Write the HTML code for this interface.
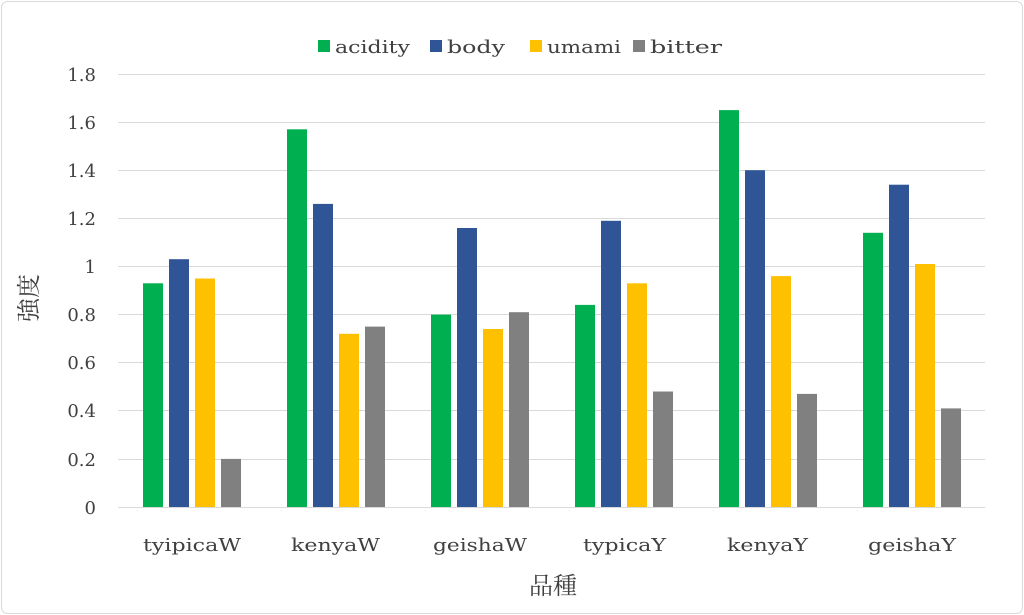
<!DOCTYPE html>
<html><head><meta charset="utf-8"><style>
html,body{margin:0;padding:0;background:#fff;}
svg{display:block;font-family:"DejaVu Serif","Noto Serif CJK JP",serif;}
</style></head><body>
<svg width="1024" height="615" xmlns="http://www.w3.org/2000/svg">
<rect x="1.5" y="1.5" width="1021" height="612" rx="6" fill="#fff" stroke="#d9d9d9"/>
<g stroke="#d9d9d9" stroke-width="1">
<line x1="118" x2="985" y1="74.5" y2="74.5"/>
<line x1="118" x2="985" y1="122.5" y2="122.5"/>
<line x1="118" x2="985" y1="170.5" y2="170.5"/>
<line x1="118" x2="985" y1="218.5" y2="218.5"/>
<line x1="118" x2="985" y1="266.5" y2="266.5"/>
<line x1="118" x2="985" y1="314.5" y2="314.5"/>
<line x1="118" x2="985" y1="362.5" y2="362.5"/>
<line x1="118" x2="985" y1="410.5" y2="410.5"/>
<line x1="118" x2="985" y1="459.5" y2="459.5"/>
<line x1="118" x2="985" y1="507.5" y2="507.5"/>
</g>
<g font-size="18" fill="#404040" text-anchor="end">
<text x="96" y="81">1.8</text><text x="96" y="129">1.6</text><text x="96" y="177">1.4</text>
<text x="96" y="225">1.2</text><text x="96" y="273">1</text><text x="96" y="321">0.8</text>
<text x="96" y="369">0.6</text><text x="96" y="417">0.4</text><text x="96" y="466">0.2</text>
<text x="96" y="514">0</text>
</g>
<g font-size="18" fill="#404040">
<text x="143" y="551" textLength="98" lengthAdjust="spacingAndGlyphs">tyipicaW</text>
<text x="291" y="551" textLength="89" lengthAdjust="spacingAndGlyphs">kenyaW</text>
<text x="433" y="551" textLength="94" lengthAdjust="spacingAndGlyphs">geishaW</text>
<text x="583" y="551" textLength="83" lengthAdjust="spacingAndGlyphs">typicaY</text>
<text x="727" y="551" textLength="81" lengthAdjust="spacingAndGlyphs">kenyaY</text>
<text x="868" y="551" textLength="88" lengthAdjust="spacingAndGlyphs">geishaY</text>
</g>
<text x="553" y="594" font-size="24" fill="#404040" text-anchor="middle">品種</text>
<text transform="translate(37,298) rotate(-90)" font-size="24" fill="#404040" text-anchor="middle">強度</text>
<g font-size="18" fill="#404040">
<rect x="318" y="40" width="12" height="12" fill="#00b050"/><text x="335" y="53" textLength="75" lengthAdjust="spacingAndGlyphs">acidity</text>
<rect x="430" y="40" width="12" height="12" fill="#2f5597"/><text x="447" y="53" textLength="58" lengthAdjust="spacingAndGlyphs">body</text>
<rect x="530" y="40" width="12" height="12" fill="#ffc000"/><text x="547" y="53" textLength="74" lengthAdjust="spacingAndGlyphs">umami</text>
<rect x="633" y="40" width="12" height="12" fill="#808080"/><text x="650" y="53" textLength="72" lengthAdjust="spacingAndGlyphs">bitter</text>
</g>
<g>
<rect x="143" y="283.3" width="20" height="223.7" fill="#00b050"/>
<rect x="169" y="259.2" width="20" height="247.8" fill="#2f5597"/>
<rect x="195" y="278.5" width="20" height="228.5" fill="#ffc000"/>
<rect x="221" y="458.9" width="20" height="48.1" fill="#808080"/>

<rect x="287" y="129.3" width="20" height="377.7" fill="#00b050"/>
<rect x="313" y="203.9" width="20" height="303.1" fill="#2f5597"/>
<rect x="339" y="333.8" width="20" height="173.2" fill="#ffc000"/>
<rect x="365" y="326.6" width="20" height="180.4" fill="#808080"/>

<rect x="431" y="314.6" width="20" height="192.4" fill="#00b050"/>
<rect x="457" y="228.0" width="20" height="279.0" fill="#2f5597"/>
<rect x="483" y="329.0" width="20" height="178.0" fill="#ffc000"/>
<rect x="509" y="312.2" width="20" height="194.8" fill="#808080"/>

<rect x="575" y="304.9" width="20" height="202.1" fill="#00b050"/>
<rect x="601" y="220.8" width="20" height="286.2" fill="#2f5597"/>
<rect x="627" y="283.3" width="20" height="223.7" fill="#ffc000"/>
<rect x="653" y="391.5" width="20" height="115.5" fill="#808080"/>

<rect x="719" y="110.1" width="20" height="396.9" fill="#00b050"/>
<rect x="745" y="170.2" width="20" height="336.8" fill="#2f5597"/>
<rect x="771" y="276.1" width="20" height="230.9" fill="#ffc000"/>
<rect x="797" y="393.9" width="20" height="113.1" fill="#808080"/>

<rect x="863" y="232.8" width="20" height="274.2" fill="#00b050"/>
<rect x="889" y="184.7" width="20" height="322.3" fill="#2f5597"/>
<rect x="915" y="264.0" width="20" height="243.0" fill="#ffc000"/>
<rect x="941" y="408.4" width="20" height="98.6" fill="#808080"/>
</g>
</svg>
</body></html>
